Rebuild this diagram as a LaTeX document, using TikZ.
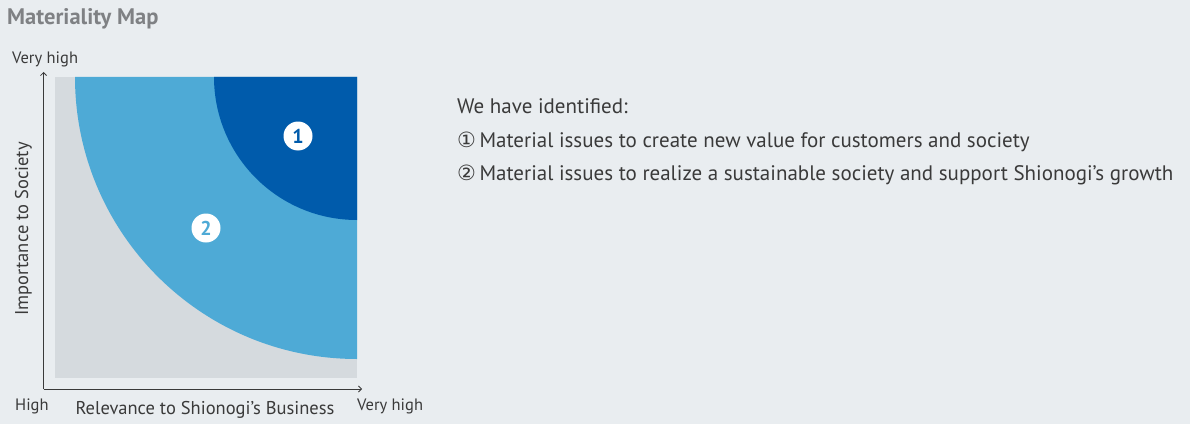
\documentclass[tikz,border=0pt]{standalone}
\usepackage{fontspec}
\setmainfont{PT Sans}
\newfontfamily\symfont{DejaVu Sans}
\usetikzlibrary{arrows.meta}
\definecolor{bgcol}{HTML}{E9EDF0}
\definecolor{fieldgray}{HTML}{D5DADE}
\definecolor{lightblue}{HTML}{4EAAD6}
\definecolor{darkblue}{HTML}{005BAB}
\definecolor{titlegray}{HTML}{7F8184}
\definecolor{textcol}{HTML}{3A3A3A}
\begin{document}
\begin{tikzpicture}[x=1pt,y=1pt]
		\tikzstyle{label}=[text=textcol,inner sep=0pt,font=\fontsize{16.5}{18}\selectfont]
		\tikzstyle{axisname}=[text=textcol,inner sep=0pt,anchor=base,font=\fontsize{18.5}{20}\selectfont]
		\tikzstyle{note}=[text=textcol,inner sep=0pt,anchor=base west,font=\fontsize{21}{24}\selectfont]
		\tikzstyle{badge}=[circle,fill=white,minimum size=29pt,inner sep=0pt,font=\fontsize{20}{20}\selectfont\bfseries]
		\tikzstyle{axis}=[draw=textcol,line width=0.8pt,-{Straight Barb[length=3pt,width=6pt]}]

		 \fill[bgcol] (0,0) rectangle (1190,424);
		 \node [anchor=base west,inner sep=0pt,text=titlegray,font=\fontsize{22.5}{24}\selectfont\bfseries] (title) at (7,399) {Materiality Map};

		 % the field
		 \fill[fieldgray] (55,46) rectangle (357,347);
		 \coordinate (corner) at (357,347);
		 \fill[lightblue] (corner) -- ++(-282,0) arc (180:270:282) -- cycle;
		 \fill[darkblue] (corner) -- ++(-143,0) arc (180:270:143) -- cycle;
		 \node [badge,text=darkblue] (one) at (298,288) {1};
		 \node [badge,text=lightblue] (two) at (206,196) {2};

		 % axes
		 \coordinate (origin) at (43.5,35);
		 \coordinate (ytip) at (43.5,352);
		 \coordinate (xtip) at (362,35);
		 \path[axis] (origin) -- (ytip);
		 \path[axis] (origin) -- (xtip);

		 \node [label,anchor=base west] (ytop) at (12,360) {Very high};
		 \node [label,anchor=base west] (xlow) at (15,14) {High};
		 \node [label,anchor=base west] (xtop) at (357,14) {Very high};
		 \node [axisname] (xname) at (205,10) {Relevance to Shionogi’s Business};
		 \node [axisname,rotate=90] (yname) at (28,195) {Importance to Society};

		 % legend
		 \node [note] (intro) at (457,311) {We have identified:};
		 \node [note] (issue1) at (457,277) {{\symfont\fontsize{21}{21}\selectfont ①}\,Material issues to create new value for customers and society};
		 \node [note] (issue2) at (457,244) {{\symfont\fontsize{21}{21}\selectfont ②}\,Material issues to realize a sustainable society and support Shionogi’s growth};
\end{tikzpicture}
\end{document}
